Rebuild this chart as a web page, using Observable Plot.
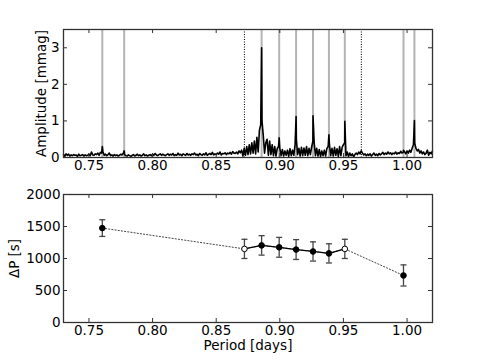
<!DOCTYPE html>
<html><head><meta charset="utf-8">
<script src="https://cdn.jsdelivr.net/npm/d3@7"></script>
<script src="https://cdn.jsdelivr.net/npm/@observablehq/plot@0.6"></script>
<style>
body{margin:0;background:#fff;}
#wrap{position:relative;width:480px;height:362px;}
#wrap > div, #wrap > svg{position:absolute;left:0;}
</style></head><body>
<div id="wrap"></div>
<script>
// ---- Data ----
// Amplitude spectrum sampled on a 0.001-day grid from 0.730 to 1.020
const gridStart = 0.730;
const gridAmp = [
0.08,0.03,0.10,0.06,0.09,0.04,0.07,0.05,0.08,0.06,
0.07,0.03,0.09,0.05,0.06,0.08,0.04,0.07,0.05,0.06,
0.09,0.05,0.15,0.07,0.06,0.10,0.08,0.12,0.06,0.14,
0.12,0.16,0.06,0.09,0.05,0.08,0.12,0.05,0.07,0.04,
0.08,0.05,0.07,0.04,0.06,0.09,0.07,0.12,0.08,0.05,
0.04,0.07,0.05,0.03,0.06,0.08,0.04,0.06,0.09,0.05,
0.07,0.04,0.06,0.10,0.05,0.07,0.04,0.06,0.08,0.05,
0.09,0.06,0.11,0.07,0.05,0.08,0.10,0.06,0.09,0.07,
0.05,0.08,0.10,0.06,0.09,0.07,0.11,0.05,0.08,0.06,
0.12,0.07,0.09,0.05,0.10,0.08,0.06,0.11,0.07,0.09,
0.06,0.10,0.08,0.12,0.07,0.09,0.05,0.11,0.08,0.06,
0.10,0.07,0.13,0.06,0.09,0.11,0.08,0.14,0.07,0.10,
0.08,0.12,0.09,0.15,0.07,0.11,0.10,0.13,0.08,0.12,
0.10,0.14,0.09,0.16,0.12,0.11,0.15,0.10,0.18,0.13,
0.20,0.04,0.25,0.06,0.30,0.08,0.35,0.10,0.40,0.12,
0.45,0.10,0.55,0.15,0.75,0.90,1.00,0.60,0.12,0.40,
0.50,0.06,0.45,0.08,0.35,0.05,0.30,0.04,0.25,0.30,
0.25,0.05,0.22,0.04,0.18,0.06,0.20,0.03,0.24,0.05,
0.20,0.06,0.35,0.50,0.08,0.25,0.04,0.28,0.05,0.26,
0.06,0.30,0.05,0.25,0.08,0.28,0.45,0.40,0.05,0.25,
0.04,0.22,0.03,0.18,0.05,0.20,0.04,0.25,0.30,0.35,
0.05,0.25,0.04,0.28,0.06,0.24,0.03,0.30,0.05,0.28,
0.35,0.40,0.05,0.15,0.03,0.12,0.05,0.10,0.02,0.08,
0.12,0.08,0.15,0.10,0.18,0.12,0.07,0.10,0.05,0.09,
0.06,0.10,0.04,0.08,0.12,0.06,0.09,0.05,0.11,0.07,
0.10,0.14,0.08,0.12,0.09,0.15,0.10,0.13,0.08,0.12,
0.10,0.15,0.09,0.13,0.11,0.17,0.12,0.14,0.16,0.10,
0.18,0.12,0.20,0.14,0.25,0.35,0.40,0.25,0.18,0.22,
0.12,0.18,0.10,0.15,0.08,0.12,0.20,0.06,0.14,0.10,
0.18
];
// Identified peaks (period, amplitude)
const peakPeriod = [0.7605, 0.7777, 0.8857, 0.8995, 0.9128, 0.9261, 0.9386, 0.9511, 0.9972, 1.0058];
const peakAmp    = [0.30,   0.18,   3.00,   0.54,   1.12,   1.14,   0.62,   0.99,   0.20,   1.01];
// Window edges (dotted)
const dottedPeriod = [0.8722, 0.9641];

// Period spacing panel
const dpPeriod = [0.7605, 0.8722, 0.8857, 0.8995, 0.9128, 0.9261, 0.9386, 0.9511, 0.9972];
const dpValue  = [1475, 1150, 1205, 1175, 1140, 1110, 1080, 1150, 735];
const dpErr    = [130, 150, 152, 155, 155, 150, 150, 150, 165];
const dpOpen   = [false, true, false, false, false, false, false, true, false];

const xTicks = [0.75, 0.80, 0.85, 0.90, 0.95, 1.00];
const yTicksTop = [0, 1, 2, 3];
const yTicksBot = [0, 500, 1000, 1500, 2000];

// ---- Build tables ----
const spectrum = gridAmp.map((a, i) => ({p: +(gridStart + i * 0.001).toFixed(4), a}))
  .concat(peakPeriod.map((p, i) => ({p, a: peakAmp[i]})))
  .sort((u, v) => u.p - v.p);
const dp = dpPeriod.map((p, i) => ({p, v: dpValue[i], e: dpErr[i], open: dpOpen[i], i}));

const W = 480, ML = 63, MR = 48;
const innerW = W - ML - MR;
const font = "DejaVu Sans, sans-serif";
const fmt = d3.format(".2f");
const TK = 4;
const axisColor = "#333";
const FS = 13.5;

function ticksMarks(innerH, yTicks) {
  return [
    Plot.tickX(xTicks, {x: d => d, insetTop: innerH - TK, stroke: axisColor}),
    Plot.tickX(xTicks, {x: d => d, insetBottom: innerH - TK, stroke: axisColor}),
    Plot.tickY(yTicks, {y: d => d, insetRight: innerW - TK, stroke: axisColor}),
    Plot.tickY(yTicks, {y: d => d, insetLeft: innerW - TK, stroke: axisColor})
  ];
}

// Top panel
const topH = 180, topMT = 29, topMB = 23;
const topInner = topH - topMT - topMB;
const topChart = Plot.plot({
  width: W, height: topH, marginLeft: ML, marginRight: MR, marginTop: topMT, marginBottom: topMB,
  style: {fontFamily: font, fontSize: "13.5px", color: "black", background: "white", overflow: "visible"},
  x: {domain: [0.73, 1.02]},
  y: {domain: [0, 3.5]},
  marks: [
    Plot.ruleX(peakPeriod, {x: d => d, stroke: "#b4b4b4", strokeWidth: 2}),
    Plot.ruleX(dottedPeriod, {x: d => d, stroke: "#111", strokeWidth: 1.1, strokeDasharray: "1,1.5"}),
    Plot.line(spectrum, {x: "p", y: "a", stroke: "black", strokeWidth: 1.6}),
    ...ticksMarks(topInner, yTicksTop),
    Plot.axisX(xTicks, {tickSize: 0, tickPadding: 3, tickFormat: fmt, label: null, fontSize: FS, fill: "black"}),
    Plot.axisY(yTicksTop, {tickSize: 0, tickPadding: 4, tickFormat: d3.format("d"), label: null, fontSize: FS, fill: "black"}),
    Plot.text(["Amplitude [mmag]"], {frameAnchor: "left", textAnchor: "middle", dx: -22, rotate: -90, text: d => d, fontSize: FS, fill: "black"}),
    Plot.frame({stroke: axisColor, strokeWidth: 1.3})
  ]
});

// Bottom panel
const botH = 182, botMT = 14, botMB = 40;
const botInner = botH - botMT - botMB;
const capSymbol = {draw(ctx, size) { const h = Math.sqrt(size / Math.PI); ctx.moveTo(-h, 0); ctx.lineTo(h, 0); }};
const solidPart = dp.filter(d => d.i >= 1 && d.i <= 7);
const botChart = Plot.plot({
  width: W, height: botH, marginLeft: ML, marginRight: MR, marginTop: botMT, marginBottom: botMB,
  style: {fontFamily: font, fontSize: "13.5px", color: "black", background: "white", overflow: "visible"},
  x: {domain: [0.73, 1.02]},
  y: {domain: [0, 2000]},
  marks: [
    Plot.line(dp, {x: "p", y: "v", stroke: "#444", strokeWidth: 1, strokeDasharray: "1.2,2"}),
    Plot.line(solidPart, {x: "p", y: "v", stroke: "black", strokeWidth: 1.2}),
    Plot.ruleX(dp, {x: "p", y1: d => d.v - d.e, y2: d => d.v + d.e, stroke: "#444", strokeWidth: 1.3}),
    Plot.dot(dp, {x: "p", y: d => d.v - d.e, symbol: capSymbol, r: 3, stroke: "#444", strokeWidth: 1.3}),
    Plot.dot(dp, {x: "p", y: d => d.v + d.e, symbol: capSymbol, r: 3, stroke: "#444", strokeWidth: 1.3}),
    Plot.dot(dp, {x: "p", y: "v", r: 2.8, fill: d => d.open ? "white" : "black", stroke: "black", strokeWidth: 1}),
    ...ticksMarks(botInner, yTicksBot),
    Plot.axisX(xTicks, {tickSize: 0, tickPadding: 3, tickFormat: fmt, label: null, fontSize: FS, fill: "black"}),
    Plot.axisY(yTicksBot, {tickSize: 0, tickPadding: 3, tickFormat: d3.format("d"), label: null, fontSize: FS, fill: "black"}),
    Plot.text(["Period [days]"], {frameAnchor: "bottom", dy: 27, text: d => d, fontSize: FS, fill: "black"}),
    Plot.text(["ΔP [s]"], {frameAnchor: "left", textAnchor: "middle", dx: -49, rotate: -90, text: d => d, fontSize: FS, fill: "black"}),
    Plot.frame({stroke: axisColor, strokeWidth: 1.3})
  ]
});

const wrap = document.getElementById("wrap");
topChart.style.top = "0px";
botChart.style.top = "180px";
wrap.appendChild(topChart);
wrap.appendChild(botChart);
</script>
</body></html>
